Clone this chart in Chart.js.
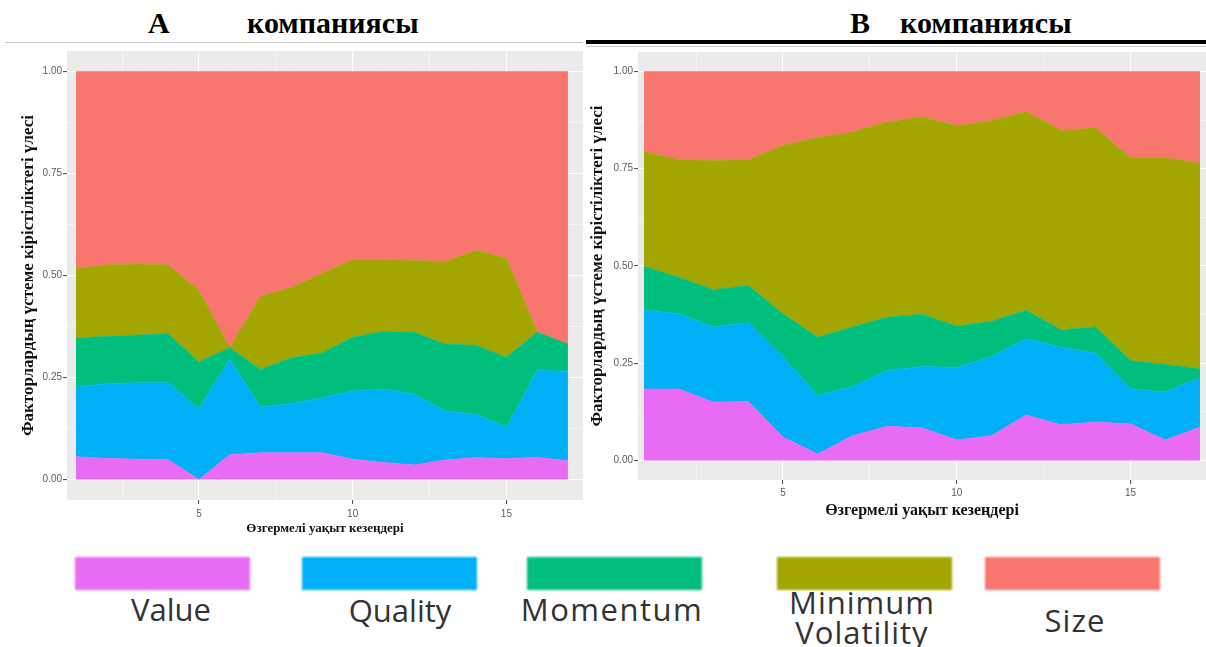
<!DOCTYPE html>
<html>
<head>
<meta charset="utf-8">
<script src="https://cdn.jsdelivr.net/npm/chart.js@4/dist/chart.umd.min.js"></script>
<style>
  body { margin: 0; width: 1206px; height: 647px; background: #fff; position: relative; overflow: hidden; }
  .ttl { position: absolute; top: 6px; font: bold 30px 'Liberation Serif', serif; color: #000; white-space: nowrap; }
  .box { position: absolute; }
  .sw { position: absolute; top: 557px; height: 33px; filter: blur(1.2px); }
  .lab { position: absolute; width: 240px; text-align: center; font: 31px 'Open Sans', sans-serif; line-height: 30px; color: #333; }
</style>
</head>
<body>
<div class="ttl" style="left:148px">A</div>
<div class="ttl" style="left:247px">компаниясы</div>
<div class="ttl" style="left:850px">B</div>
<div class="ttl" style="left:900px">компаниясы</div>
<div style="position:absolute;left:5px;top:42px;width:578px;height:1px;background:#c8c8c8"></div>
<div style="position:absolute;left:586px;top:40px;width:620px;height:4px;background:#000"></div>
<div style="position:absolute;left:586px;top:46px;width:620px;height:1px;background:#d0d0d0"></div>

<div class="box" style="left:0;top:44px"><canvas id="chartA" width="590" height="500"></canvas></div>
<div class="box" style="left:585px;top:44px"><canvas id="chartB" width="621" height="480"></canvas></div>

<div id="legend"></div>

<script>
const periods = [1, 2, 3, 4, 5, 6, 7, 8, 9, 10, 11, 12, 13, 14, 15, 16, 17];

// company A shares
const valueA    = [0.056, 0.052, 0.050, 0.049, 0.000, 0.061, 0.066, 0.066, 0.066, 0.050, 0.042, 0.036, 0.048, 0.054, 0.051, 0.055, 0.046];
const qualityA  = [0.171, 0.183, 0.187, 0.188, 0.173, 0.234, 0.112, 0.120, 0.134, 0.167, 0.180, 0.173, 0.120, 0.106, 0.077, 0.213, 0.219];
const momentumA = [0.120, 0.116, 0.117, 0.120, 0.115, 0.028, 0.092, 0.112, 0.110, 0.132, 0.141, 0.152, 0.164, 0.169, 0.172, 0.093, 0.067];
const minVolA   = [0.170, 0.175, 0.174, 0.169, 0.175, 0.000, 0.179, 0.172, 0.195, 0.190, 0.176, 0.176, 0.202, 0.232, 0.242, 0.000, 0.000];
const sizeA     = [0.483, 0.474, 0.472, 0.474, 0.537, 0.677, 0.551, 0.530, 0.495, 0.461, 0.461, 0.463, 0.466, 0.439, 0.458, 0.639, 0.668];

// company B shares
const valueB    = [0.184, 0.184, 0.150, 0.152, 0.060, 0.017, 0.064, 0.088, 0.084, 0.053, 0.064, 0.117, 0.092, 0.099, 0.094, 0.053, 0.086];
const qualityB  = [0.203, 0.193, 0.193, 0.203, 0.206, 0.150, 0.126, 0.143, 0.158, 0.186, 0.203, 0.196, 0.199, 0.177, 0.090, 0.123, 0.128];
const momentumB = [0.112, 0.094, 0.096, 0.095, 0.111, 0.150, 0.153, 0.137, 0.134, 0.106, 0.091, 0.073, 0.045, 0.067, 0.073, 0.071, 0.022];
const minVolB   = [0.295, 0.302, 0.332, 0.323, 0.433, 0.513, 0.501, 0.502, 0.507, 0.516, 0.516, 0.511, 0.512, 0.512, 0.521, 0.531, 0.529];
const sizeB     = [0.206, 0.227, 0.229, 0.227, 0.190, 0.170, 0.156, 0.130, 0.117, 0.139, 0.126, 0.103, 0.152, 0.145, 0.222, 0.222, 0.235];

const seriesNames = ['Value', 'Quality', 'Momentum', 'Minimum Volatility', 'Size'];
const seriesColors = ['#E76BF3', '#00B0F6', '#00BF7D', '#A3A500', '#F8766D'];

const yTicks = [0, 0.25, 0.5, 0.75, 1];
const yMinor = [0.125, 0.375, 0.625, 0.875];
const xTicks = [5, 10, 15];
const xMinor = [2.5, 7.5, 12.5];

const yTitle = 'Факторлардың үстеме кірістіліктегі үлесі';
const xTitle = 'Өзгермелі уақыт кезеңдері';

const panelBg = {
  id: 'panelBg',
  beforeDraw(chart) {
    const { ctx, chartArea: a } = chart;
    ctx.save();
    ctx.fillStyle = '#EBEBEB';
    ctx.fillRect(a.left, a.top, a.right - a.left, a.bottom - a.top);
    ctx.restore();
  }
};

function makeChart(id, series, g) {
  const datasets = series.map((vals, i) => ({
    label: seriesNames[i],
    data: vals.map((v, k) => ({ x: periods[k], y: v })),
    backgroundColor: seriesColors[i],
    borderColor: seriesColors[i],
    borderWidth: 0.6,
    pointRadius: 0,
    tension: 0,
    fill: i === 0 ? 'origin' : '-1'
  }));

  const isMajor = (v, list) => list.includes(v);

  return new Chart(document.getElementById(id), {
    type: 'line',
    data: { datasets },
    plugins: [panelBg],
    options: {
      responsive: false,
      animation: false,
      layout: { padding: { top: g.padTop, right: g.padRight, left: 0, bottom: 0 } },
      plugins: { legend: { display: false }, tooltip: { enabled: false } },
      scales: {
        x: {
          type: 'linear',
          min: g.xMin,
          max: g.xMax,
          afterBuildTicks: (axis) => { axis.ticks = xMinor.concat(xTicks).sort((a, b) => a - b).map(v => ({ value: v })); },
          afterFit: (axis) => { axis.height = 44; },
          ticks: {
            autoSkip: false,
            maxRotation: 0,
            padding: g.xTickPad,
            color: '#5c5c5c',
            font: { family: 'Liberation Sans', size: 10 },
            callback: (v) => isMajor(v, xTicks) ? String(v) : ''
          },
          grid: {
            color: '#ffffff',
            lineWidth: (c) => isMajor(c.tick.value, xTicks) ? 1.1 : 0.5,
            tickColor: (c) => isMajor(c.tick.value, xTicks) ? '#555' : 'rgba(0,0,0,0)',
            tickLength: 4
          },
          border: { display: false },
          title: {
            display: true,
            text: xTitle,
            color: '#111',
            font: { family: 'Liberation Serif', size: g.xTitleSize, weight: 'bold' },
            padding: { top: 0, bottom: g.xTitlePad }
          }
        },
        y: {
          type: 'linear',
          stacked: true,
          min: -0.05,
          max: 1.05,
          afterBuildTicks: (axis) => { axis.ticks = yTicks.concat(yMinor).sort((a, b) => a - b).map(v => ({ value: v })); },
          afterFit: (axis) => { axis.width = g.yWidth; },
          ticks: {
            autoSkip: false,
            padding: 1,
            color: '#5c5c5c',
            font: { family: 'Liberation Sans', size: 10 },
            callback: (v) => isMajor(v, yTicks) ? v.toFixed(2) : ''
          },
          grid: {
            color: '#ffffff',
            lineWidth: (c) => isMajor(c.tick.value, yTicks) ? 1.1 : 0.5,
            tickColor: (c) => isMajor(c.tick.value, yTicks) ? '#555' : 'rgba(0,0,0,0)',
            tickLength: 4
          },
          border: { display: false },
          title: {
            display: true,
            text: yTitle,
            color: '#111',
            font: { family: 'Liberation Serif', size: 17, weight: 'bold' },
            padding: { top: g.yTitlePad, bottom: 0 }
          }
        }
      }
    }
  });
}

makeChart('chartA', [valueA, qualityA, momentumA, minVolA, sizeA], {
  padTop: 5, padRight: 7, xMin: 0.71, xMax: 17.49, yWidth: 67,
  xTickPad: 4, xTitleSize: 13, xTitlePad: 8, yTitlePad: 18
});

makeChart('chartB', [valueB, qualityB, momentumB, minVolB, sizeB], {
  padTop: 8, padRight: 0, xMin: 0.83, xMax: 17.17, yWidth: 53,
  xTickPad: 3, xTitleSize: 16, xTitlePad: 4, yTitlePad: 2
});

// legend under the charts
const swatchX = [75, 302, 527, 777, 985];
const labelCx = [171, 400, 612, 862, 1075];
const labelTop = [[594], [595], [594], [587, 617], [605]];
const labelSpacing = [0, 0, 1.5, 1, 1];
const legend = document.getElementById('legend');
seriesNames.forEach((name, i) => {
  const sw = document.createElement('div');
  sw.className = 'sw';
  sw.style.left = swatchX[i] + 'px';
  sw.style.width = '175px';
  sw.style.background = seriesColors[i];
  legend.appendChild(sw);
  const words = i === 3 ? name.split(' ') : [name];
  words.forEach((w, k) => {
    const lb = document.createElement('div');
    lb.className = 'lab';
    lb.textContent = w;
    lb.style.left = (labelCx[i] - 120) + 'px';
    lb.style.top = labelTop[i][k] + 'px';
    lb.style.letterSpacing = labelSpacing[i] + 'px';
    legend.appendChild(lb);
  });
});
</script>
</body>
</html>
